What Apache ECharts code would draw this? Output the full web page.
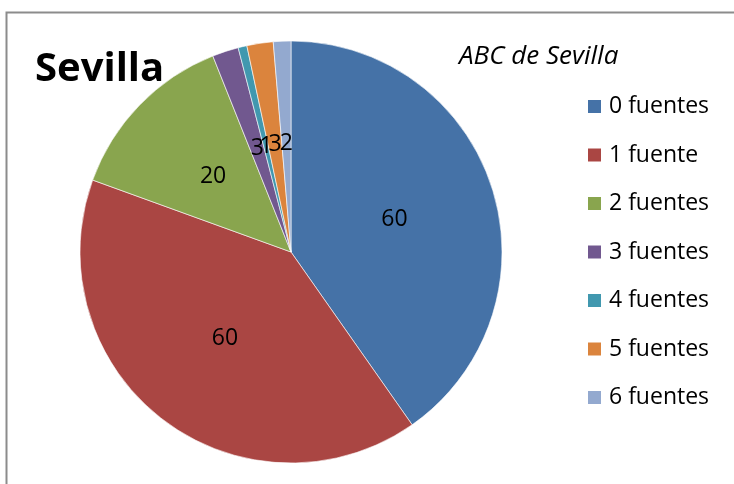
<!DOCTYPE html>
<html>
<head>
<meta charset="utf-8">
<script src="https://cdn.jsdelivr.net/npm/echarts@6/dist/echarts.min.js"></script>
<style>
  html, body { margin: 0; padding: 0; background: #fff; }
  #chart { width: 734px; height: 484px; }
</style>
</head>
<body>
<div id="chart"></div>
<script>
// datos
var categorias = ['0 fuentes', '1 fuente', '2 fuentes', '3 fuentes', '4 fuentes', '5 fuentes', '6 fuentes']
var valores = [60, 60, 20, 3, 1, 3, 2]
var colores = ['#4572A7', '#AA4643', '#89A54E', '#71588F', '#4198AF', '#DB843D', '#93A9CF']

var myChart = echarts.init(document.getElementById('chart'))
myChart.setOption({
  animation: false,
  color: colores,
  graphic: [
    {
      type: 'rect',
      shape: { x: 6.5, y: 12.5, width: 760, height: 500 },
      style: { fill: 'none', stroke: '#8c8c8c', lineWidth: 2 },
      z: -1
    }
  ],
  title: [
    {
      text: 'Sevilla',
      left: 35,
      top: 50,
      padding: 0,
      textStyle: { fontFamily: 'Open Sans', fontWeight: 'bold', fontSize: 40, color: '#000' }
    },
    {
      text: 'ABC de Sevilla',
      left: 459,
      top: 44,
      padding: 0,
      textStyle: { fontFamily: 'Open Sans', fontStyle: 'italic', fontWeight: 'normal', fontSize: 26, color: '#000' }
    }
  ],
  legend: {
    orient: 'vertical',
    left: 586,
    top: 95,
    padding: 0,
    itemWidth: 15,
    itemHeight: 15,
    itemGap: 25.5,
    icon: 'rect',
    textStyle: { fontFamily: 'Open Sans', fontSize: 23, color: '#000', padding: [0, 0, 0, 2] },
    data: categorias
  },
  series: [
    {
      type: 'pie',
      center: [291, 252],
      radius: [0, 211],
      startAngle: 90,
      clockwise: true,
      avoidLabelOverlap: false,
      labelLayout: { hideOverlap: false },
      itemStyle: { borderColor: '#fff', borderWidth: 0.6 },
      label: {
        show: true,
        position: 'inside',
        formatter: '{c}',
        fontFamily: 'Open Sans',
        fontSize: 23,
        color: '#000'
      },
      labelLine: { show: false },
      data: categorias.map(function (c, i) {
        return { name: c, value: valores[i] }
      })
    }
  ]
})
</script>
</body>
</html>
